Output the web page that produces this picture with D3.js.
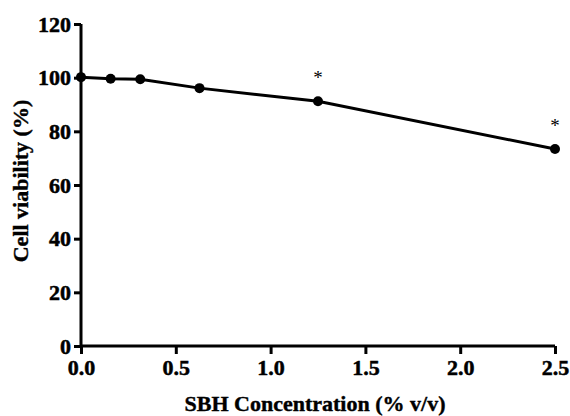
<!DOCTYPE html>
<html>
<head>
<meta charset="utf-8">
<script src="https://cdn.jsdelivr.net/npm/d3@7"></script>
<style>
  body { margin: 0; background: #fff; }
  svg { display: block; }
  text { font-family: "Liberation Serif", "Times New Roman", serif; font-weight: bold; }
</style>
</head>
<body>
<svg id="chart" width="570" height="416"></svg>
<script>
const concentration = [0, 0.15625, 0.3125, 0.625, 1.25, 2.5]
const viability = [100.2, 99.6, 99.4, 96.1, 91.2, 73.4]
const significant = [false, false, false, false, true, true]
const xTicks = [0, 0.5, 1.0, 1.5, 2.0, 2.5]
const yTicks = [0, 20, 40, 60, 80, 100, 120]

const width = 570
const height = 416
const margin = {top: 24, right: 15, bottom: 70, left: 81}

const svg = d3.select("#chart")

const x = d3.scaleLinear()
    .domain([0, 2.5])
    .range([margin.left, width - margin.right])

const y = d3.scaleLinear()
    .domain([0, 120])
    .range([height - margin.bottom, margin.top])

// axes
const xAxis = svg.append("g")
    .attr("transform", `translate(0,${height - margin.bottom})`)
    .call(d3.axisBottom(x).tickValues(xTicks).tickFormat(d3.format(".1f")).tickSize(8).tickPadding(5))

const yAxis = svg.append("g")
    .attr("transform", `translate(${margin.left},0)`)
    .call(d3.axisLeft(y).tickValues(yTicks).tickSize(7).tickPadding(3))

for (const g of [xAxis, yAxis]) {
  g.select(".domain").attr("stroke-width", 3).attr("stroke", "#000")
  g.selectAll(".tick line").attr("stroke-width", 3).attr("stroke", "#000")
  g.selectAll(".tick text").attr("font-size", 22).attr("fill", "#000")
    .attr("stroke", "#000").attr("stroke-width", 0.5)
    .style("font-family", '"Liberation Serif", serif').style("font-weight", "bold")
}
xAxis.select(".domain").attr("d", `M${x(0)},0H${x(2.5)}`)
yAxis.select(".domain").attr("d", `M0,${y(0)}V${y(120)}`)

// line + points
const pts = concentration.map((c, i) => ({c, v: viability[i], sig: significant[i]}))

svg.append("path")
    .datum(pts)
    .attr("fill", "none")
    .attr("stroke", "#000")
    .attr("stroke-width", 3)
    .attr("d", d3.line().x(d => x(d.c)).y(d => y(d.v)))

svg.selectAll("circle.pt")
  .data(pts)
  .join("circle")
    .attr("class", "pt")
    .attr("cx", d => x(d.c))
    .attr("cy", d => y(d.v))
    .attr("r", 5)
    .attr("fill", "#000")

svg.selectAll("text.sig")
  .data(pts.filter(d => d.sig))
  .join("text")
    .attr("class", "sig")
    .attr("x", d => x(d.c))
    .attr("y", d => y(d.v) - 17)
    .attr("text-anchor", "middle")
    .attr("font-size", 19)
    .style("font-weight", "normal")
    .text("*")

// titles
svg.append("text")
    .attr("x", 315)
    .attr("y", 411)
    .attr("text-anchor", "middle")
    .attr("font-size", 22)
    .attr("stroke", "#000").attr("stroke-width", 0.4)
    .text("SBH Concentration (% v/v)")

svg.append("text")
    .attr("transform", "translate(28,181) rotate(-90)")
    .attr("text-anchor", "middle")
    .attr("font-size", 22)
    .attr("stroke", "#000").attr("stroke-width", 0.4)
    .text("Cell viability (%)")
</script>
</body>
</html>
